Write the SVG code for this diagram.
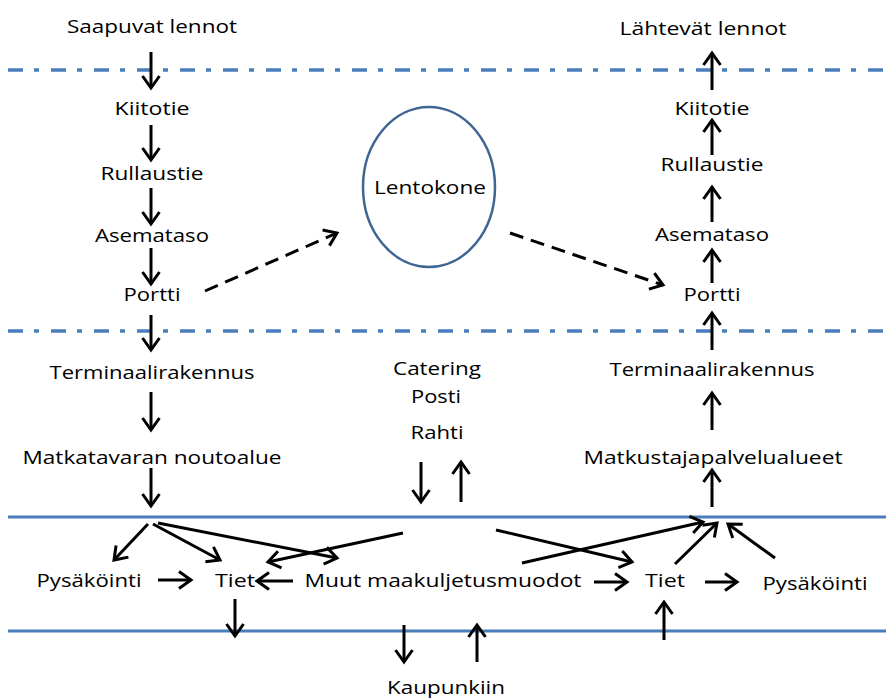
<svg xmlns="http://www.w3.org/2000/svg" width="886" height="700" viewBox="0 0 886 700">
<style>
text{font-family:"Open Sans","Noto Sans","Liberation Sans",sans-serif;font-size:19px;fill:#000;text-anchor:middle}
.dd{stroke:#4A7EBB;stroke-width:3.5;stroke-dasharray:15,11,5,12;fill:none}
.sl{stroke:#4A7EBB;stroke-width:3;fill:none}
.a{stroke:#000;stroke-width:3;fill:none;marker-end:url(#ah)}
.d{stroke:#000;stroke-width:3;fill:none;stroke-dasharray:14,8;marker-end:url(#ah)}
</style>
<defs>
<marker id="ah" markerUnits="userSpaceOnUse" markerWidth="24" markerHeight="24" viewBox="-14 -12 18 24" refX="0" refY="0" orient="auto" overflow="visible">
<path d="M-12,-8.5 L0,0 L-12,8.5" fill="none" stroke="#000" stroke-width="3"/>
</marker>
</defs>
<rect width="886" height="700" fill="#fff"/>
<g id="bands">
<line class="dd" x1="8" y1="70" x2="886" y2="70"/>
<line class="dd" x1="8" y1="331" x2="886" y2="331"/>
<line class="sl" x1="8" y1="517" x2="886" y2="517"/>
<line class="sl" x1="8" y1="631" x2="886" y2="631"/>
</g>
<g id="connectors">
<line class="a" x1="151" y1="52" x2="151" y2="88"/>
<line class="a" x1="151" y1="125" x2="151" y2="160"/>
<line class="a" x1="151" y1="188" x2="151" y2="224"/>
<line class="a" x1="151" y1="248" x2="151" y2="284"/>
<line class="a" x1="151" y1="315" x2="151" y2="350"/>
<line class="a" x1="151" y1="392" x2="151" y2="430"/>
<line class="a" x1="151" y1="468" x2="151" y2="506"/>
<line class="a" x1="712" y1="90" x2="712" y2="53"/>
<line class="a" x1="712" y1="155" x2="712" y2="120"/>
<line class="a" x1="712" y1="222" x2="712" y2="187"/>
<line class="a" x1="712" y1="283" x2="712" y2="250"/>
<line class="a" x1="712" y1="350" x2="712" y2="313"/>
<line class="a" x1="712" y1="430" x2="712" y2="393"/>
<line class="a" x1="712" y1="507" x2="712" y2="470"/>
<line class="d" x1="205" y1="291" x2="337" y2="233"/>
<line class="d" x1="510" y1="233" x2="663" y2="285"/>
<line class="a" x1="421" y1="462" x2="421" y2="502"/>
<line class="a" x1="461" y1="502" x2="461" y2="462"/>
<line class="a" x1="148" y1="524" x2="114" y2="560"/>
<line class="a" x1="153" y1="524" x2="220" y2="560"/>
<line class="a" x1="158" y1="523" x2="337" y2="558"/>
<line class="a" x1="403" y1="533" x2="268" y2="562"/>
<line class="a" x1="158" y1="580" x2="191" y2="580"/>
<line class="a" x1="293" y1="581" x2="257" y2="581"/>
<line class="a" x1="235" y1="599" x2="235" y2="636"/>
<line class="a" x1="404" y1="625" x2="404" y2="662"/>
<line class="a" x1="477" y1="662" x2="477" y2="625"/>
<line class="a" x1="496" y1="530" x2="632" y2="562"/>
<line class="a" x1="522" y1="563" x2="703" y2="522"/>
<line class="a" x1="675" y1="564" x2="717" y2="523"/>
<line class="a" x1="775" y1="558" x2="728" y2="524"/>
<line class="a" x1="594" y1="582" x2="627" y2="582"/>
<line class="a" x1="705" y1="582" x2="737" y2="582"/>
<line class="a" x1="664" y1="640" x2="664" y2="602"/>
</g>
<g id="n-saapuvat"><text x="152" y="33" textLength="170" lengthAdjust="spacingAndGlyphs">Saapuvat lennot</text></g>
<g id="n-kiitotie-l"><text x="152" y="115" textLength="75" lengthAdjust="spacingAndGlyphs">Kiitotie</text></g>
<g id="n-rullaustie-l"><text x="152" y="180" textLength="103" lengthAdjust="spacingAndGlyphs">Rullaustie</text></g>
<g id="n-asemataso-l"><text x="152" y="242" textLength="114" lengthAdjust="spacingAndGlyphs">Asemataso</text></g>
<g id="n-portti-l"><text x="152" y="301" textLength="57" lengthAdjust="spacingAndGlyphs">Portti</text></g>
<g id="n-terminaali-l"><text x="152" y="379" textLength="205" lengthAdjust="spacingAndGlyphs">Terminaalirakennus</text></g>
<g id="n-matkatavara"><text x="152" y="464" textLength="259" lengthAdjust="spacingAndGlyphs">Matkatavaran noutoalue</text></g>
<g id="n-lahtevat"><text x="703" y="35" textLength="167" lengthAdjust="spacingAndGlyphs">Lähtevät lennot</text></g>
<g id="n-kiitotie-r"><text x="712" y="115" textLength="75" lengthAdjust="spacingAndGlyphs">Kiitotie</text></g>
<g id="n-rullaustie-r"><text x="712" y="171" textLength="103" lengthAdjust="spacingAndGlyphs">Rullaustie</text></g>
<g id="n-asemataso-r"><text x="712" y="241" textLength="114" lengthAdjust="spacingAndGlyphs">Asemataso</text></g>
<g id="n-portti-r"><text x="712" y="301" textLength="57" lengthAdjust="spacingAndGlyphs">Portti</text></g>
<g id="n-terminaali-r"><text x="712" y="376" textLength="205" lengthAdjust="spacingAndGlyphs">Terminaalirakennus</text></g>
<g id="n-matkustaja"><text x="713" y="464" textLength="259" lengthAdjust="spacingAndGlyphs">Matkustajapalvelualueet</text></g>
<g id="n-lentokone">
<ellipse cx="429" cy="187" rx="66" ry="80" fill="none" stroke="#3F6592" stroke-width="2.5"/>
<text x="430" y="194" textLength="112" lengthAdjust="spacingAndGlyphs">Lentokone</text>
</g>
<g id="n-catering">
<text x="437" y="375" textLength="88" lengthAdjust="spacingAndGlyphs">Catering</text>
<text x="436" y="403" textLength="50" lengthAdjust="spacingAndGlyphs">Posti</text>
<text x="437" y="439" textLength="53" lengthAdjust="spacingAndGlyphs">Rahti</text>
</g>
<g id="n-pysakointi-l"><text x="89" y="587" textLength="105" lengthAdjust="spacingAndGlyphs">Pysäköinti</text></g>
<g id="n-tiet-l"><text x="235" y="587" textLength="40" lengthAdjust="spacingAndGlyphs">Tiet</text></g>
<g id="n-muut"><text x="443" y="587" textLength="277" lengthAdjust="spacingAndGlyphs">Muut maakuljetusmuodot</text></g>
<g id="n-tiet-r"><text x="665" y="587" textLength="40" lengthAdjust="spacingAndGlyphs">Tiet</text></g>
<g id="n-pysakointi-r"><text x="815" y="590" textLength="105" lengthAdjust="spacingAndGlyphs">Pysäköinti</text></g>
<g id="n-kaupunkiin"><text x="446" y="694" textLength="118" lengthAdjust="spacingAndGlyphs">Kaupunkiin</text></g>
</svg>
